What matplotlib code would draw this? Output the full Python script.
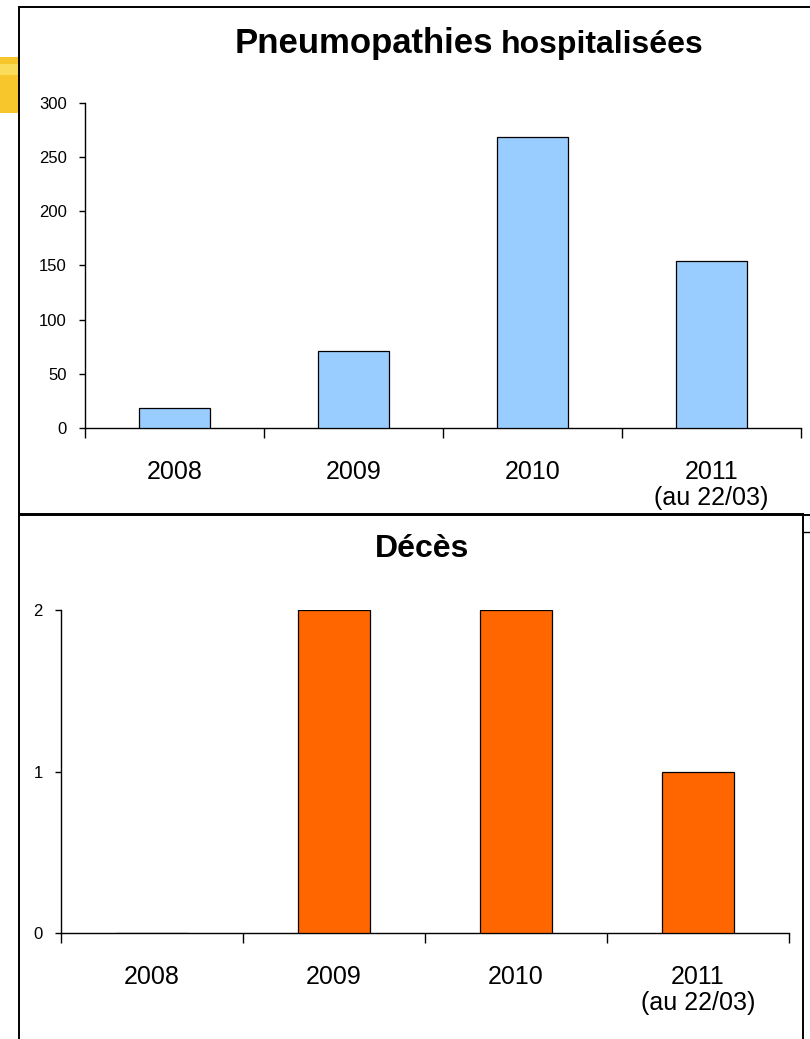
import matplotlib
matplotlib.use('Agg')
import matplotlib.pyplot as plt
from matplotlib.patches import Rectangle
from matplotlib.lines import Line2D

plt.rcParams['font.family'] = ['Liberation Sans', 'DejaVu Sans']

# Data
years = ['2008', '2009', '2010', '2011\n(au 22/03)']
pneumopathies = [18, 71, 268, 154]
deces = [0, 2, 2, 1]

W, H = 810, 1039
fig = plt.figure(figsize=(W / 100, H / 100), dpi=100)


def fx(px):
    return px / W


def fy(py):
    return 1 - py / H


def box(left, top, right, bottom):
    return [fx(left), fy(bottom), fx(right) - fx(left), fy(top) - fy(bottom)]


def style_axes(ax, ymax, yticks, ysize):
    x = range(len(years))
    ax.set_xlim(-0.5, len(years) - 0.5)
    ax.set_ylim(0, ymax)
    for s in ['top', 'right']:
        ax.spines[s].set_visible(False)
    for s in ['left', 'bottom']:
        ax.spines[s].set_linewidth(1.0)
    ax.set_yticks(yticks)
    ax.tick_params(axis='y', direction='out', length=4, width=1.0,
                   labelsize=ysize, pad=9)
    # category boundaries carry the tick marks, labels sit between them
    ax.set_xticks([i - 0.5 for i in range(len(years) + 1)])
    ax.set_xticklabels([])
    ax.set_xticks(list(x), minor=True)
    ax.set_xticklabels(years, minor=True, fontsize=18, linespacing=1.1)
    ax.tick_params(axis='x', which='major', direction='out', length=7, width=1.0)
    ax.tick_params(axis='x', which='minor', length=0, pad=23)
    ax.patch.set_alpha(0)


# Hospitalised pneumonia
ax1 = fig.add_axes(box(85, 102.7, 801, 428))
ax1.bar(range(len(years)), pneumopathies, width=0.4, color='#99CCFF',
        edgecolor='black', linewidth=0.9, zorder=3)
style_axes(ax1, 300, [0, 50, 100, 150, 200, 250, 300], 12)

# Deaths
ax2 = fig.add_axes(box(61, 610, 789, 933))
ax2.bar(range(len(years)), deces, width=0.4, color='#FF6600',
        edgecolor='black', linewidth=0.9, zorder=3)
style_axes(ax2, 2, [0, 1, 2], 12)

# Titles
fig.text(fx(493), fy(53), 'Pneumopathies', fontsize=25, fontweight='bold',
         ha='right', va='baseline')
fig.text(fx(501), fy(53), 'hospitalisées', fontsize=23, fontweight='bold',
         ha='left', va='baseline')
fig.text(fx(422), fy(557), 'Décès', fontsize=23, fontweight='bold',
         ha='center', va='baseline')

# Panel frames
frame = dict(fill=False, edgecolor='black', linewidth=1.4,
             transform=fig.transFigure, zorder=5)
fig.patches.append(Rectangle((fx(19), fy(515)), fx(830) - fx(19),
                             fy(7) - fy(515), **frame))
fig.patches.append(Rectangle((fx(19), fy(1060)), fx(802.5) - fx(19),
                             fy(514) - fy(1060), **frame))
fig.lines.append(Line2D([fx(802.5), fx(810)], [fy(532), fy(532)],
                        color='black', linewidth=1.0,
                        transform=fig.transFigure))

# Yellow shape peeking out on the left
fig.patches.append(Rectangle((0, fy(113)), fx(19), fy(57) - fy(113),
                             facecolor='#F6C62C', edgecolor='none',
                             transform=fig.transFigure, zorder=1))
fig.patches.append(Rectangle((0, fy(75)), fx(19), fy(64) - fy(75),
                             facecolor='#FADB5A', edgecolor='none',
                             transform=fig.transFigure, zorder=1))

fig.savefig('out.png', dpi=100)
